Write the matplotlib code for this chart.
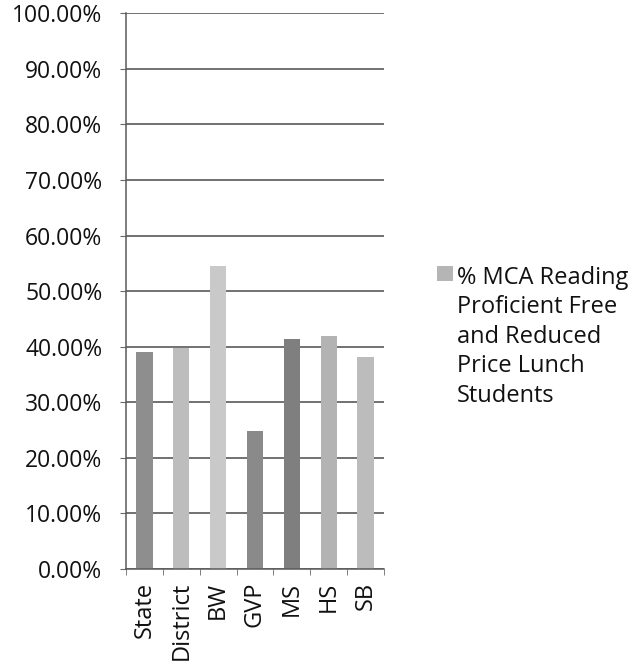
import matplotlib
matplotlib.use("Agg")
import matplotlib.pyplot as plt
from matplotlib.patches import Rectangle
from matplotlib.ticker import MultipleLocator, FuncFormatter, FixedLocator

categories = ["State", "District", "BW", "GVP", "MS", "HS", "SB"]
values = [39.0, 39.7, 54.5, 24.8, 41.3, 42.0, 38.2]
bar_colors = ["#8e8e8e", "#bdbdbd", "#c9c9c9", "#8a8a8a", "#7f7f7f", "#b3b3b3", "#bcbcbc"]
series_label = "% MCA Reading\nProficient Free\nand Reduced\nPrice Lunch\nStudents"

plt.rcParams['font.family'] = ['Open Sans', 'DejaVu Sans']

W, H = 638, 667
fig = plt.figure(figsize=(W / 100, H / 100), dpi=100)
left, right, top, bottom = 126, 384, 13.3, 569
ax = fig.add_axes([left / W, 1 - bottom / H, (right - left) / W, (bottom - top) / H])

x = list(range(len(categories)))
ax.bar(x, values, width=0.44, color=bar_colors, zorder=2)

ax.set_xlim(-0.5, len(categories) - 0.5)
ax.set_ylim(0, 100)
ax.yaxis.set_major_locator(MultipleLocator(10))
ax.yaxis.set_major_formatter(FuncFormatter(lambda v, p: f"{v:.2f}%"))
ax.grid(axis='y', color='#4a4a4a', linewidth=1.1, zorder=1)

ax.set_xticks(x)
ax.set_xticklabels(categories, rotation=90, fontsize=17, color='#111111')
ax.tick_params(axis='x', which='major', length=0, pad=9)
ax.xaxis.set_minor_locator(FixedLocator([i - 0.5 for i in range(len(categories) + 1)]))
ax.tick_params(axis='x', which='minor', length=4, color='#6a6a6a', direction='out')
ax.tick_params(axis='y', labelsize=16.5, length=4, color='#6a6a6a', pad=13,
               labelcolor='#111111')

for s in ['top', 'right']:
    ax.spines[s].set_visible(False)
for s in ['left', 'bottom']:
    ax.spines[s].set_color('#5a5a5a')
    ax.spines[s].set_linewidth(1.1)

# legend
fig.patches.append(Rectangle((437 / W, 1 - 281 / H), 16 / W, 15 / H,
                             transform=fig.transFigure, facecolor='#b5b5b5',
                             edgecolor='none', figure=fig))
fig.text(457 / W, 1 - 266 / H, series_label, fontsize=17, va='top', ha='left',
         linespacing=1.30, color='#111111')

fig.savefig("out.png", dpi=100)
